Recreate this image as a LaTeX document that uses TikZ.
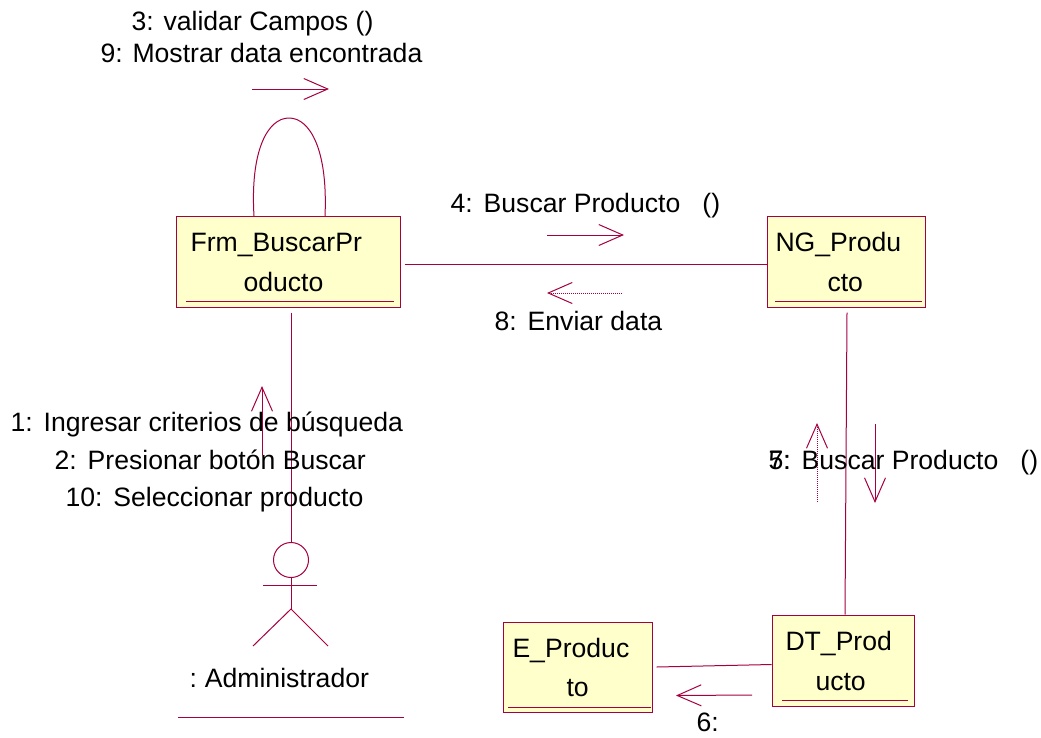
\documentclass[tikz,border=0pt]{standalone}
\usepackage{fontspec}
\setmainfont{Liberation Sans}
\usetikzlibrary{arrows.meta, calc, positioning}
\definecolor{rosered}{HTML}{A50040}
\definecolor{roseyellow}{HTML}{FFFFCB}

\begin{document}
\begin{tikzpicture}[x=1pt,y=-1pt,line width=1pt,
    objbox/.style={draw=rosered,fill=roseyellow,line width=1pt,inner sep=0pt},
    link/.style={draw=rosered,line width=1pt},
    msg/.style={draw=rosered,line width=1pt,-{Straight Barb[length=24pt,width=21pt,line width=1pt]}},
    msgback/.style={msg,densely dotted},
    txt/.style={inner sep=0pt,anchor=base west,font=\fontsize{26.6}{26.6}\selectfont}]
    \useasboundingbox (0,0) rectangle (1041,737);

    % objects
    \node[objbox,minimum width=224pt,minimum height=91pt] (frm) at (288,261.5) {};
    \node[objbox,minimum width=158pt,minimum height=91pt] (ng) at (846,261.5) {};
    \node[objbox,minimum width=142pt,minimum height=91pt] (dt) at (843,660.5) {};
    \node[objbox,minimum width=149pt,minimum height=90pt] (ent) at (577.5,667) {};
    \draw[link] (186,301) -- (394,301);
    \draw[link] (775,301) -- (922,301);
    \draw[link] (782,700) -- (908,700);
    \draw[link] (508,707) -- (651,707);

    \node[txt] (frmA) at (190,251) {Frm\_BuscarPr};
    \node[txt] (frmB) at (243,291) {oducto};
    \node[txt] (ngA) at (775,251) {NG\_Produ};
    \node[txt] (ngB) at (827,291) {cto};
    \node[txt] (dtA) at (785,650) {DT\_Prod};
    \node[txt] (dtB) at (815,690) {ucto};
    \node[txt] (entA) at (512,657) {E\_Produc};
    \node[txt] (entB) at (566,696) {to};

    % actor
    \node[draw=rosered,line width=1pt,circle,minimum size=35pt,inner sep=0pt] (head) at (291,560) {};
    \coordinate (hip) at (291,609);
    \draw[link] (head.south) -- (hip);
    \draw[link] (263,585) -- (317,585);
    \draw[link] (253,646) -- (hip) -- (328,646);
    \node[txt] (admin) at (189,687) {:\hspace{8pt}Administrador};
    \draw[link] (178,717) -- (404,717);

    % links
    \draw[link] ([xshift=4pt,yshift=-2.5pt]frm.east) -- ([yshift=-2.5pt]ng.west);
    \draw[link] ([xshift=3pt,yshift=-5pt]frm.south) -- (head.north);
    \draw[link] ([xshift=1pt,yshift=-5pt]ng.south) -- ([xshift=2pt]dt.north);
    \draw[link] ([xshift=4pt]ent.east) -- ([yshift=-4pt]dt.west);
    \draw[link] (254,216) .. controls (250,150) and (268,118) .. (289,118) .. controls (310,118) and (328,150) .. (325,216);

    % messages
    \draw[msg] (252,89) -- (329,89);
    \draw[msg] (547,235) -- (624,235);
    \draw[msgback] (622,293) -- (547,293);
    \draw[msg] (262,455) -- (262,386);
    \draw[msgback] (817,502) -- (817,423);
    \draw[msg] (875,424) -- (875,503);
    \draw[msg] (752,695) -- (676,695.5);

    % labels
    \node[txt] (lblThree) at (131,30) {3: validar Campos ()};
    \node[txt] (lblNine) at (100,62) {9: Mostrar data encontrada};
    \node[txt] (lblFour) at (450,212) {4:\hspace{11pt}Buscar Producto~~~()};
    \node[txt] (lblEight) at (494,330) {8:\hspace{11pt}Enviar data};
    \node[txt] (lblOne) at (10,431) {1:\hspace{11pt}Ingresar criterios de búsqueda};
    \node[txt] (lblTwo) at (54,469) {2:\hspace{11pt}Presionar botón Buscar};
    \node[txt] (lblTen) at (65,506) {10:\hspace{11pt}Seleccionar producto};
    \node[txt] (lblFive) at (768,469) {5:};
    \node[txt] (lblSeven) at (768,469) {7:\hspace{11pt}Buscar Producto~~~()};
    \node[txt] (lblSix) at (696,731) {6:};
\end{tikzpicture}
\end{document}
